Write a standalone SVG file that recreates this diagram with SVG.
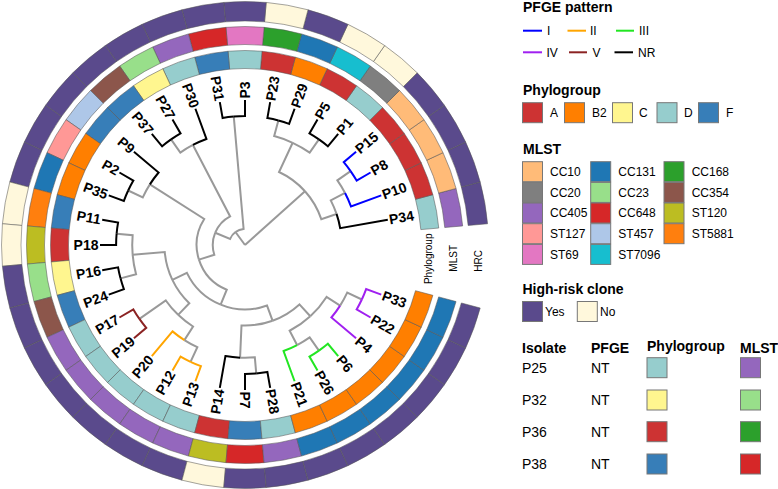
<svg xmlns="http://www.w3.org/2000/svg" xmlns:xlink="http://www.w3.org/1999/xlink" width="778" height="489" viewBox="0 0 778 489">
<style>
text{font-family:"Liberation Sans",Arial,sans-serif;fill:#000}
.tip{font-size:14px;font-weight:bold}
.lt{font-size:14px;font-weight:bold}
.ll{font-size:12px}
.tb{font-size:14px}
.rl{font-size:10px}
.cell{stroke:#555;stroke-width:0.5}
.key{stroke:#777;stroke-width:1}
.e{fill:none;stroke-width:2}
.gr{stroke:#999}
.k{stroke:#000}.c1{stroke:#0000FF}.c2{stroke:#FFA500}.c3{stroke:#22E622}.c4{stroke:#A020F0}.c5{stroke:#8B2323}
.pA{fill:#CD3333}.pB{fill:#FF7F00}.pC{fill:#FFF68F}.pD{fill:#96CDCD}.pF{fill:#377EB8}
.m10{fill:#FFBB78}.m131{fill:#1F77B4}.m168{fill:#2CA02C}.m20{fill:#7F7F7F}.m23{fill:#98DF8A}.m354{fill:#8C564B}.m405{fill:#9467BD}.m648{fill:#D62728}
.s120{fill:#BCBD22}.s127{fill:#FF9896}.s457{fill:#AEC7E8}.s5881{fill:#FF7F0E}.s69{fill:#E377C2}.s7096{fill:#17BECF}
.hy{fill:#5A4A8C}.hn{fill:#FFF8DC}
</style>
<defs>
<path id="sp" d="M438.76,228.05 A194.5,194.5 0 0 1 438.76,261.95 L420.83,260.38 A176.5,176.5 0 0 0 420.83,229.62 Z"/>
<path id="sm" d="M462.67,225.96 A218.5,218.5 0 0 1 462.67,264.04 L444.74,262.47 A200.5,200.5 0 0 0 444.74,227.53 Z"/>
<path id="sh" d="M487.57,223.78 A243.5,243.5 0 0 1 487.57,266.22 L468.15,264.52 A224,224 0 0 0 468.15,225.48 Z"/>
</defs>
<rect width="778" height="489" fill="#fff"/>

<g id="connectors" class="e">
<g class="gr">
<path d="M245,245 L304.99,191.23"/>
<path d="M245,245 L235.47,232.01"/>
<path d="M304.99,191.23 A80.56,80.56 0 0 1 321.29,219.11 L336.54,213.93"/>
<path d="M304.99,191.23 A80.56,80.56 0 0 0 279.05,171.99 L292.66,142.79"/>
<path d="M336.54,213.93 A96.67,96.67 0 0 0 330.75,200.36 L345.04,192.92"/>
<path d="M345.04,192.92 A112.78,112.78 0 0 0 337.38,180.31 L350.58,171.07"/>
<path d="M292.66,142.79 A112.78,112.78 0 0 1 309.69,152.62 L318.93,139.42"/>
<path d="M292.66,142.79 A112.78,112.78 0 0 0 274.19,136.06 L278.36,120.50"/>
<path d="M235.47,232.01 A16.11,16.11 0 0 1 243.60,228.95 L233.77,116.60"/>
<path d="M235.47,232.01 A16.11,16.11 0 0 0 230.11,238.86 L215.22,232.71"/>
<path d="M215.22,232.71 A32.22,32.22 0 0 1 230.12,216.42 L192.92,144.96"/>
<path d="M215.22,232.71 A32.22,32.22 0 0 0 214.30,254.77 L198.95,259.66"/>
<path d="M192.92,144.96 A112.78,112.78 0 0 0 180.31,152.62 L171.07,139.42"/>
<path d="M198.95,259.66 A48.33,48.33 0 0 1 204.24,219.03 L149.88,184.40"/>
<path d="M198.95,259.66 A48.33,48.33 0 0 0 226.75,289.75 L220.67,304.67"/>
<path d="M149.88,184.40 A112.78,112.78 0 0 0 142.79,197.34 L128.19,190.53"/>
<path d="M220.67,304.67 A64.44,64.44 0 0 1 186.90,272.87 L172.36,279.84"/>
<path d="M220.67,304.67 A64.44,64.44 0 0 0 267.04,305.55 L272.55,320.70"/>
<path d="M172.36,279.84 A80.56,80.56 0 0 1 164.75,252.02 L132.65,254.83"/>
<path d="M172.36,279.84 A80.56,80.56 0 0 0 189.29,303.19 L178.15,314.83"/>
<path d="M132.65,254.83 A112.78,112.78 0 0 1 132.65,235.17 L116.60,233.77"/>
<path d="M132.65,254.83 A112.78,112.78 0 0 0 136.06,274.19 L120.50,278.36"/>
<path d="M178.15,314.83 A96.67,96.67 0 0 1 165.81,300.45 L139.42,318.93"/>
<path d="M178.15,314.83 A96.67,96.67 0 0 0 193.06,326.53 L184.40,340.12"/>
<path d="M184.40,340.12 A112.78,112.78 0 0 0 197.34,347.21 L190.53,361.81"/>
<path d="M272.55,320.70 A80.56,80.56 0 0 1 241.49,325.48 L240.08,357.67"/>
<path d="M272.55,320.70 A80.56,80.56 0 0 0 299.43,304.40 L310.31,316.27"/>
<path d="M240.08,357.67 A112.78,112.78 0 0 0 254.83,357.35 L256.23,373.40"/>
<path d="M310.31,316.27 A96.67,96.67 0 0 1 289.64,330.75 L297.08,345.04"/>
<path d="M310.31,316.27 A96.67,96.67 0 0 0 326.53,296.94 L340.12,305.60"/>
<path d="M297.08,345.04 A112.78,112.78 0 0 0 309.69,337.38 L318.93,350.58"/>
<path d="M340.12,305.60 A112.78,112.78 0 0 0 347.21,292.66 L361.81,299.47"/>
</g>
<path class="k" d="M336.54,213.93 A96.67,96.67 0 0 1 340.20,228.21 L387.80,219.82"/>
<path class="c1" d="M345.04,192.92 A112.78,112.78 0 0 1 350.98,206.43 L381.26,195.41"/>
<path class="c1" d="M350.58,171.07 A128.89,128.89 0 0 1 356.62,180.56 L370.57,172.5"/>
<path class="c1" d="M350.58,171.07 A128.89,128.89 0 0 0 343.74,162.15 L356.08,151.80"/>
<path class="k" d="M318.93,139.42 A128.89,128.89 0 0 1 327.85,146.27 L338.20,133.92"/>
<path class="k" d="M318.93,139.42 A128.89,128.89 0 0 0 309.45,133.38 L317.5,119.43"/>
<path class="k" d="M278.36,120.50 A128.89,128.89 0 0 1 289.08,123.88 L294.59,108.74"/>
<path class="k" d="M278.36,120.50 A128.89,128.89 0 0 0 267.38,118.07 L270.18,102.20"/>
<path class="k" d="M233.77,116.60 A128.89,128.89 0 0 1 245,116.11 L245,100"/>
<path class="k" d="M233.77,116.60 A128.89,128.89 0 0 0 222.62,118.07 L219.82,102.20"/>
<path class="k" d="M192.92,144.96 A112.78,112.78 0 0 1 206.43,139.02 L195.41,108.74"/>
<path class="k" d="M171.07,139.42 A128.89,128.89 0 0 1 180.56,133.38 L172.5,119.43"/>
<path class="k" d="M171.07,139.42 A128.89,128.89 0 0 0 162.15,146.27 L151.80,133.92"/>
<path class="k" d="M149.88,184.40 A112.78,112.78 0 0 1 158.61,172.51 L133.92,151.80"/>
<path class="k" d="M128.19,190.53 A128.89,128.89 0 0 1 133.38,180.56 L119.43,172.5"/>
<path class="k" d="M128.19,190.53 A128.89,128.89 0 0 0 123.88,200.92 L108.74,195.41"/>
<path class="k" d="M116.60,233.77 A128.89,128.89 0 0 1 118.07,222.62 L102.20,219.82"/>
<path class="k" d="M116.60,233.77 A128.89,128.89 0 0 0 116.11,245 L100,245"/>
<path class="k" d="M120.50,278.36 A128.89,128.89 0 0 1 118.07,267.38 L102.20,270.18"/>
<path class="k" d="M120.50,278.36 A128.89,128.89 0 0 0 123.88,289.08 L108.74,294.59"/>
<path class="c5" d="M139.42,318.93 A128.89,128.89 0 0 1 133.38,309.45 L119.43,317.5"/>
<path class="c5" d="M139.42,318.93 A128.89,128.89 0 0 0 146.27,327.85 L133.92,338.20"/>
<path class="c2" d="M184.40,340.12 A112.78,112.78 0 0 1 172.51,331.39 L151.80,356.08"/>
<path class="c2" d="M190.53,361.81 A128.89,128.89 0 0 1 180.56,356.62 L172.5,370.57"/>
<path class="c2" d="M190.53,361.81 A128.89,128.89 0 0 0 200.92,366.12 L195.41,381.26"/>
<path class="k" d="M240.08,357.67 A112.78,112.78 0 0 1 225.42,356.07 L219.82,387.80"/>
<path class="k" d="M256.23,373.40 A128.89,128.89 0 0 1 245,373.89 L245,390"/>
<path class="k" d="M256.23,373.40 A128.89,128.89 0 0 0 267.38,371.93 L270.18,387.80"/>
<path class="c3" d="M297.08,345.04 A112.78,112.78 0 0 1 283.57,350.98 L294.59,381.26"/>
<path class="c3" d="M318.93,350.58 A128.89,128.89 0 0 1 309.45,356.62 L317.5,370.57"/>
<path class="c3" d="M318.93,350.58 A128.89,128.89 0 0 0 327.85,343.74 L338.20,356.08"/>
<path class="c4" d="M340.12,305.60 A112.78,112.78 0 0 1 331.39,317.49 L356.08,338.20"/>
<path class="c4" d="M361.81,299.47 A128.89,128.89 0 0 1 356.62,309.45 L370.57,317.5"/>
<path class="c4" d="M361.81,299.47 A128.89,128.89 0 0 0 366.12,289.08 L381.26,294.59"/>
</g>

<g id="P34" transform="rotate(-10 245 245)"><use href="#sp" class="cell pD"/><use href="#sm" class="cell m405"/><use href="#sh" class="cell hy"/><text class="tip" x="391.5" y="245" dy=".35em">P34</text></g>
<g id="P10" transform="rotate(-20 245 245)"><use href="#sp" class="cell pA"/><use href="#sm" class="cell m10"/><use href="#sh" class="cell hy"/><text class="tip" x="391.5" y="245" dy=".35em">P10</text></g>
<g id="P8" transform="rotate(-30 245 245)"><use href="#sp" class="cell pA"/><use href="#sm" class="cell m10"/><use href="#sh" class="cell hy"/><text class="tip" x="391.5" y="245" dy=".35em">P8</text></g>
<g id="P15" transform="rotate(-40 245 245)"><use href="#sp" class="cell pA"/><use href="#sm" class="cell m10"/><use href="#sh" class="cell hy"/><text class="tip" x="391.5" y="245" dy=".35em">P15</text></g>
<g id="P1" transform="rotate(-50 245 245)"><use href="#sp" class="cell pD"/><use href="#sm" class="cell m20"/><use href="#sh" class="cell hn"/><text class="tip" x="391.5" y="245" dy=".35em">P1</text></g>
<g id="P5" transform="rotate(-60 245 245)"><use href="#sp" class="cell pA"/><use href="#sm" class="cell s7096"/><use href="#sh" class="cell hn"/><text class="tip" x="391.5" y="245" dy=".35em">P5</text></g>
<g id="P29" transform="rotate(-70 245 245)"><use href="#sp" class="cell pB"/><use href="#sm" class="cell m131"/><use href="#sh" class="cell hy"/><text class="tip" x="391.5" y="245" dy=".35em">P29</text></g>
<g id="P23" transform="rotate(-80 245 245)"><use href="#sp" class="cell pA"/><use href="#sm" class="cell m168"/><use href="#sh" class="cell hn"/><text class="tip" x="391.5" y="245" dy=".35em">P23</text></g>
<g id="P3" transform="rotate(-90 245 245)"><use href="#sp" class="cell pD"/><use href="#sm" class="cell s69"/><use href="#sh" class="cell hy"/><text class="tip" x="391.5" y="245" dy=".35em">P3</text></g>
<g id="P31" transform="rotate(-100 245 245)"><use href="#sp" class="cell pF"/><use href="#sm" class="cell m648"/><use href="#sh" class="cell hy"/><text class="tip" x="391.5" y="245" dy=".35em" text-anchor="end" transform="rotate(180 391.5 245)">P31</text></g>
<g id="P30" transform="rotate(-110 245 245)"><use href="#sp" class="cell pD"/><use href="#sm" class="cell m405"/><use href="#sh" class="cell hy"/><text class="tip" x="391.5" y="245" dy=".35em" text-anchor="end" transform="rotate(180 391.5 245)">P30</text></g>
<g id="P27" transform="rotate(-120 245 245)"><use href="#sp" class="cell pC"/><use href="#sm" class="cell m23"/><use href="#sh" class="cell hy"/><text class="tip" x="391.5" y="245" dy=".35em" text-anchor="end" transform="rotate(180 391.5 245)">P27</text></g>
<g id="P37" transform="rotate(-130 245 245)"><use href="#sp" class="cell pF"/><use href="#sm" class="cell m354"/><use href="#sh" class="cell hy"/><text class="tip" x="391.5" y="245" dy=".35em" text-anchor="end" transform="rotate(180 391.5 245)">P37</text></g>
<g id="P9" transform="rotate(-140 245 245)"><use href="#sp" class="cell pF"/><use href="#sm" class="cell s457"/><use href="#sh" class="cell hy"/><text class="tip" x="391.5" y="245" dy=".35em" text-anchor="end" transform="rotate(180 391.5 245)">P9</text></g>
<g id="P2" transform="rotate(-150 245 245)"><use href="#sp" class="cell pB"/><use href="#sm" class="cell s127"/><use href="#sh" class="cell hy"/><text class="tip" x="391.5" y="245" dy=".35em" text-anchor="end" transform="rotate(180 391.5 245)">P2</text></g>
<g id="P35" transform="rotate(-160 245 245)"><use href="#sp" class="cell pB"/><use href="#sm" class="cell m131"/><use href="#sh" class="cell hy"/><text class="tip" x="391.5" y="245" dy=".35em" text-anchor="end" transform="rotate(180 391.5 245)">P35</text></g>
<g id="P11" transform="rotate(-170 245 245)"><use href="#sp" class="cell pF"/><use href="#sm" class="cell s5881"/><use href="#sh" class="cell hn"/><text class="tip" x="391.5" y="245" dy=".35em" text-anchor="end" transform="rotate(180 391.5 245)">P11</text></g>
<g id="P18" transform="rotate(-180 245 245)"><use href="#sp" class="cell pA"/><use href="#sm" class="cell s120"/><use href="#sh" class="cell hn"/><text class="tip" x="391.5" y="245" dy=".35em" text-anchor="end" transform="rotate(180 391.5 245)">P18</text></g>
<g id="P16" transform="rotate(-190 245 245)"><use href="#sp" class="cell pC"/><use href="#sm" class="cell m23"/><use href="#sh" class="cell hy"/><text class="tip" x="391.5" y="245" dy=".35em" text-anchor="end" transform="rotate(180 391.5 245)">P16</text></g>
<g id="P24" transform="rotate(-200 245 245)"><use href="#sp" class="cell pF"/><use href="#sm" class="cell m354"/><use href="#sh" class="cell hy"/><text class="tip" x="391.5" y="245" dy=".35em" text-anchor="end" transform="rotate(180 391.5 245)">P24</text></g>
<g id="P17" transform="rotate(-210 245 245)"><use href="#sp" class="cell pD"/><use href="#sm" class="cell m405"/><use href="#sh" class="cell hy"/><text class="tip" x="391.5" y="245" dy=".35em" text-anchor="end" transform="rotate(180 391.5 245)">P17</text></g>
<g id="P19" transform="rotate(-220 245 245)"><use href="#sp" class="cell pD"/><use href="#sm" class="cell m405"/><use href="#sh" class="cell hy"/><text class="tip" x="391.5" y="245" dy=".35em" text-anchor="end" transform="rotate(180 391.5 245)">P19</text></g>
<g id="P20" transform="rotate(-230 245 245)"><use href="#sp" class="cell pD"/><use href="#sm" class="cell m405"/><use href="#sh" class="cell hy"/><text class="tip" x="391.5" y="245" dy=".35em" text-anchor="end" transform="rotate(180 391.5 245)">P20</text></g>
<g id="P12" transform="rotate(-240 245 245)"><use href="#sp" class="cell pD"/><use href="#sm" class="cell m405"/><use href="#sh" class="cell hy"/><text class="tip" x="391.5" y="245" dy=".35em" text-anchor="end" transform="rotate(180 391.5 245)">P12</text></g>
<g id="P13" transform="rotate(-250 245 245)"><use href="#sp" class="cell pD"/><use href="#sm" class="cell m405"/><use href="#sh" class="cell hy"/><text class="tip" x="391.5" y="245" dy=".35em" text-anchor="end" transform="rotate(180 391.5 245)">P13</text></g>
<g id="P14" transform="rotate(-260 245 245)"><use href="#sp" class="cell pA"/><use href="#sm" class="cell s120"/><use href="#sh" class="cell hn"/><text class="tip" x="391.5" y="245" dy=".35em" text-anchor="end" transform="rotate(180 391.5 245)">P14</text></g>
<g id="P7" transform="rotate(-270 245 245)"><use href="#sp" class="cell pF"/><use href="#sm" class="cell m648"/><use href="#sh" class="cell hy"/><text class="tip" x="391.5" y="245" dy=".35em">P7</text></g>
<g id="P28" transform="rotate(-280 245 245)"><use href="#sp" class="cell pD"/><use href="#sm" class="cell m405"/><use href="#sh" class="cell hy"/><text class="tip" x="391.5" y="245" dy=".35em">P28</text></g>
<g id="P21" transform="rotate(-290 245 245)"><use href="#sp" class="cell pB"/><use href="#sm" class="cell m131"/><use href="#sh" class="cell hy"/><text class="tip" x="391.5" y="245" dy=".35em">P21</text></g>
<g id="P26" transform="rotate(-300 245 245)"><use href="#sp" class="cell pB"/><use href="#sm" class="cell m131"/><use href="#sh" class="cell hy"/><text class="tip" x="391.5" y="245" dy=".35em">P26</text></g>
<g id="P6" transform="rotate(-310 245 245)"><use href="#sp" class="cell pB"/><use href="#sm" class="cell m131"/><use href="#sh" class="cell hy"/><text class="tip" x="391.5" y="245" dy=".35em">P6</text></g>
<g id="P4" transform="rotate(-320 245 245)"><use href="#sp" class="cell pB"/><use href="#sm" class="cell m131"/><use href="#sh" class="cell hy"/><text class="tip" x="391.5" y="245" dy=".35em">P4</text></g>
<g id="P22" transform="rotate(-330 245 245)"><use href="#sp" class="cell pB"/><use href="#sm" class="cell m131"/><use href="#sh" class="cell hy"/><text class="tip" x="391.5" y="245" dy=".35em">P22</text></g>
<g id="P33" transform="rotate(-340 245 245)"><use href="#sp" class="cell pB"/><use href="#sm" class="cell m131"/><use href="#sh" class="cell hy"/><text class="tip" x="391.5" y="245" dy=".35em">P33</text></g>

<g id="ring-labels" class="rl">
<text class="rl" transform="translate(431.5,233.5) rotate(-90)" text-anchor="end">Phylogroup</text>
<text class="rl" transform="translate(456.5,245) rotate(-90)" text-anchor="end">MLST</text>
<text class="rl" transform="translate(481.5,250) rotate(-90)" text-anchor="end">HRC</text>
</g>

<g id="legend-pfge">
<text class="lt" x="523" y="12">PFGE pattern</text>
<g class="e">
<line class="c1" x1="523" y1="30.7" x2="542" y2="30.7"/>
<line class="c2" x1="567.5" y1="30.7" x2="586" y2="30.7"/>
<line class="c3" x1="616" y1="30.7" x2="634" y2="30.7"/>
<line class="c4" x1="523" y1="52.3" x2="542" y2="52.3"/>
<line class="c5" x1="569" y1="52.3" x2="587" y2="52.3"/>
<line class="k" x1="614.5" y1="52.3" x2="633" y2="52.3"/>
</g>
<text class="ll" x="547" y="35">I</text>
<text class="ll" x="590" y="35">II</text>
<text class="ll" x="639" y="35">III</text>
<text class="ll" x="546.5" y="56.6">IV</text>
<text class="ll" x="592.5" y="56.6">V</text>
<text class="ll" x="638" y="56.6">NR</text>
</g>

<g id="legend-phylogroup">
<text class="lt" x="523" y="95">Phylogroup</text>
<rect class="key pA" x="522.5" y="102.7" width="20" height="20"/><text class="ll" x="550" y="117">A</text>
<rect class="key pB" x="564.5" y="102.7" width="20" height="20"/><text class="ll" x="592" y="117">B2</text>
<rect class="key pC" x="612.5" y="102.7" width="20" height="20"/><text class="ll" x="639" y="117">C</text>
<rect class="key pD" x="657" y="102.7" width="20" height="20"/><text class="ll" x="684" y="117">D</text>
<rect class="key pF" x="698.5" y="102.7" width="20" height="20"/><text class="ll" x="726" y="117">F</text>
</g>

<g id="legend-mlst">
<text class="lt" x="523" y="154">MLST</text>
<rect class="key m10" x="522.5" y="161.7" width="20" height="20"/><text class="ll" x="550" y="176">CC10</text>
<rect class="key m20" x="522.5" y="182.4" width="20" height="20"/><text class="ll" x="550" y="196.7">CC20</text>
<rect class="key m405" x="522.5" y="203" width="20" height="20"/><text class="ll" x="550" y="217.3">CC405</text>
<rect class="key s127" x="522.5" y="223.7" width="20" height="20"/><text class="ll" x="550" y="238">ST127</text>
<rect class="key s69" x="522.5" y="244.4" width="20" height="20"/><text class="ll" x="550" y="258.7">ST69</text>
<rect class="key m131" x="590.7" y="161.7" width="20" height="20"/><text class="ll" x="618.3" y="176">CC131</text>
<rect class="key m23" x="590.7" y="182.4" width="20" height="20"/><text class="ll" x="618.3" y="196.7">CC23</text>
<rect class="key m648" x="590.7" y="203" width="20" height="20"/><text class="ll" x="618.3" y="217.3">CC648</text>
<rect class="key s457" x="590.7" y="223.7" width="20" height="20"/><text class="ll" x="618.3" y="238">ST457</text>
<rect class="key s7096" x="590.7" y="244.4" width="20" height="20"/><text class="ll" x="618.3" y="258.7">ST7096</text>
<rect class="key m168" x="664" y="161.7" width="20" height="20"/><text class="ll" x="691.7" y="176">CC168</text>
<rect class="key m354" x="664" y="182.4" width="20" height="20"/><text class="ll" x="691.7" y="196.7">CC354</text>
<rect class="key s120" x="664" y="203" width="20" height="20"/><text class="ll" x="691.7" y="217.3">ST120</text>
<rect class="key s5881" x="664" y="223.7" width="20" height="20"/><text class="ll" x="691.7" y="238">ST5881</text>
</g>

<g id="legend-hrc">
<text class="lt" x="522.5" y="293.5">High-risk clone</text>
<rect class="key hy" x="522.5" y="301.5" width="20" height="20"/><text class="ll" x="545" y="316">Yes</text>
<rect class="key hn" x="577.3" y="301.5" width="20" height="20"/><text class="ll" x="600" y="316">No</text>
</g>

<g id="table-nt">
<text class="lt" x="522" y="353">Isolate</text>
<text class="lt" x="591" y="353">PFGE</text>
<text class="lt" x="647" y="351">Phylogroup</text>
<text class="lt" x="740" y="353">MLST</text>
<g id="row-P25"><text class="tb" x="522" y="372.7">P25</text><text class="tb" x="591" y="372.7">NT</text><rect class="key pD" x="647" y="357.7" width="20" height="20"/><rect class="key m405" x="740.5" y="357.7" width="20" height="20"/></g>
<g id="row-P32"><text class="tb" x="522" y="405">P32</text><text class="tb" x="591" y="405">NT</text><rect class="key pC" x="647" y="390" width="20" height="20"/><rect class="key m23" x="740.5" y="390" width="20" height="20"/></g>
<g id="row-P36"><text class="tb" x="522" y="436.7">P36</text><text class="tb" x="591" y="436.7">NT</text><rect class="key pA" x="647" y="421.7" width="20" height="20"/><rect class="key m168" x="740.5" y="421.7" width="20" height="20"/></g>
<g id="row-P38"><text class="tb" x="522" y="469">P38</text><text class="tb" x="591" y="469">NT</text><rect class="key pF" x="647" y="454" width="20" height="20"/><rect class="key m648" x="740.5" y="454" width="20" height="20"/></g>
</g>
</svg>
